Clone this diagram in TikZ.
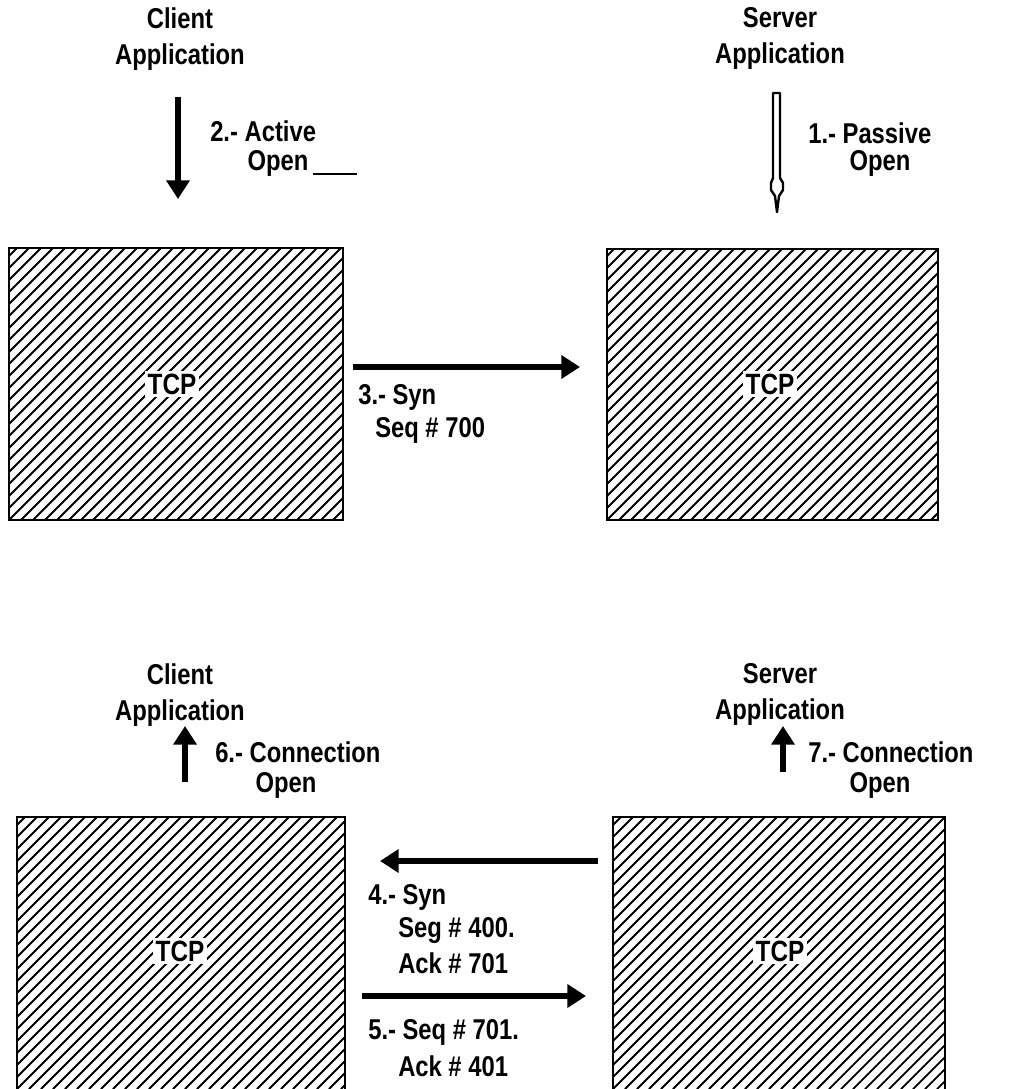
\documentclass[tikz,border=0pt]{standalone}
\usepackage{fontspec}
\setmainfont{Liberation Sans}[FakeStretch=0.83]
\usetikzlibrary{arrows.meta}
\begin{document}
\begin{tikzpicture}[x=0.75pt,y=-0.75pt,
  lbl/.style={font=\fontsize{21.5}{27}\selectfont\bfseries, inner sep=0pt, yshift=-2.2pt},
  lbll/.style={lbl, anchor=west},
  app/.style={lbl, align=center},
  tcplbl/.style={font=\fontsize{22}{27}\selectfont\bfseries, fill=white, inner sep=2pt},
  boxedge/.style={line width=1.8pt},
  hatch/.style={line width=1.35pt},
  bigarrow/.style={line width=4pt, -{Triangle[length=14pt,width=17pt]}},
]
\useasboundingbox (0,0) rectangle (1014,1089);

% ---------- hatched boxes ----------
\newcommand{\hatchbox}[4]{%
  \begin{scope}
    \clip (#1,#2) rectangle (#3,#4);
    \foreach \s in {-420,-408,...,360}
      \draw[hatch] ({#1+\s},#4) -- ++(420,-420);
  \end{scope}
}
\hatchbox{9}{248}{343}{520}
\draw[boxedge] (9,248) rectangle (343,520);
\hatchbox{607}{249}{938}{520}
\draw[boxedge] (607,249) rectangle (938,520);
\hatchbox{17}{817}{345}{1089}
\draw[boxedge] (17,1089) -- (17,817) -- (345,817) -- (345,1089);
\hatchbox{613}{817}{945}{1089}
\draw[boxedge] (613,1089) -- (613,817) -- (945,817) -- (945,1089);

\node[tcplbl] (tcpTL) at (172,384) {TCP};
\node[tcplbl] (tcpTR) at (770,384) {TCP};
\node[tcplbl] (tcpBL) at (180,951) {TCP};
\node[tcplbl] (tcpBR) at (780,951) {TCP};

% ---------- application labels ----------
\node[app] (cliTop) at (180,36) {Client\\Application};
\node[app] (srvTop) at (780,36) {Server\\Application};
\node[app] (cliBot) at (180,692) {Client\\Application};
\node[app] (srvBot) at (780,692) {Server\\Application};

% ---------- step labels ----------
\node[lbll] (l2a) at (210,128) {2.- Active};
\node[lbl]  (l2b) at (278,161) {Open};
\node[lbll] (l1a) at (808,130) {1.- Passive};
\node[lbl]  (l1b) at (880,161) {Open};
\node[lbll] (l3a) at (358,395) {3.- Syn};
\node[lbll] (l3b) at (375,428) {Seq \# 700};
\node[lbll] (l6a) at (215,749) {6.- Connection};
\node[lbl]  (l6b) at (286,783) {Open};
\node[lbll] (l7a) at (808,749) {7.- Connection};
\node[lbl]  (l7b) at (880,783) {Open};
\node[lbll] (l4a) at (368,895) {4.- Syn};
\node[lbll] (l4b) at (398,928) {Seg \# 400.};
\node[lbll] (l4c) at (398,960) {Ack \# 701};
\node[lbll] (l5a) at (368,1030) {5.- Seq \# 701.};
\node[lbll] (l5b) at (398,1063) {Ack \# 401};

% ---------- arrow end points ----------
\coordinate (a2s) at (178,97);  \coordinate (a2e) at (178,199);
\coordinate (a3s) at (353,367); \coordinate (a3e) at (580,367);
\coordinate (a6s) at (185,782); \coordinate (a6e) at (185,726);
\coordinate (a7s) at (783,772); \coordinate (a7e) at (783,726);
\coordinate (a4s) at (598,861); \coordinate (a4e) at (380,861);
\coordinate (a5s) at (362,996); \coordinate (a5e) at (586,996);

\draw[bigarrow] (a2s) -- (a2e);
\draw[bigarrow] (a3s) -- (a3e);
\draw[bigarrow] (a6s) -- (a6e);
\draw[bigarrow] (a7s) -- (a7e);
\draw[bigarrow] (a4s) -- (a4e);
\draw[bigarrow] (a5s) -- (a5e);

% ---------- hollow (passive) arrow ----------
\coordinate (a1s) at (776,93);
\coordinate (a1e) at (777,212);
\draw[line width=1.8pt, line join=round]
  (773,93) -- (780,93) -- (780,178) -- (783,183) -- (783,190) -- (779,196)
  -- (a1e) -- (775,196) -- (771,190) -- (771,183) -- (773,178) -- cycle;

% ---------- stray dash ----------
\coordinate (d1) at (313,174); \coordinate (d2) at (357,174);
\draw[line width=1.3pt] (d1) -- (d2);
\end{tikzpicture}
\end{document}
